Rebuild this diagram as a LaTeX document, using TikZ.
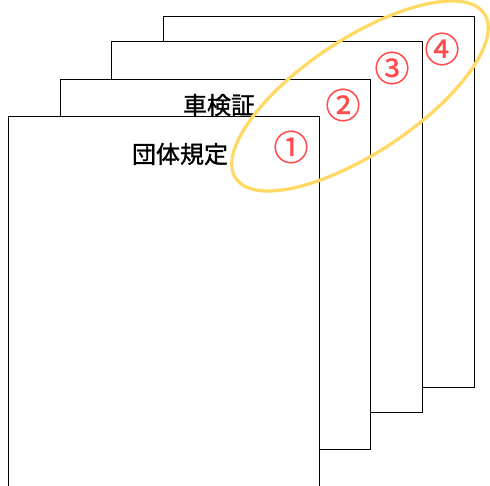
\documentclass[tikz,border=0pt]{standalone}
\usepackage{fontspec}
\newfontfamily\jpfont[FakeBold=1.2]{Noto Sans CJK JP}
\newfontfamily\jpnumfont[FakeBold=0.8]{Noto Sans CJK JP}
\definecolor{ringyellow}{RGB}{255,217,102}
\definecolor{numred}{RGB}{255,75,75}
\tikzset{page/.style={draw=black, line width=1pt, fill=white, minimum width=310.5pt, minimum height=370pt, inner sep=0pt},
         title/.style={font=\jpfont\fontsize{24}{24}\selectfont},
         num/.style={text=numred, font=\jpnumfont\fontsize{35}{35}\selectfont, inner sep=0pt}}

\begin{document}
\begin{tikzpicture}[x=1pt,y=-1pt]
            \useasboundingbox (0,0) rectangle (490,486);
            \node[page] (p4) at (318.8,202) {};
            \node[page] (p3) at (267,227) {};
            \node[page] (p2) at (215.7,264.3) {};
            \node[page] (p1) at (163.9,301.3) {};
            \node[title] (kensho) at (219,105) {車検証};
            \node[title] (kitei) at (180,154) {団体規定};
            \draw [ringyellow, line width=3.3pt, rotate around={33.5:(360,96)}] (360,96) ellipse [x radius=149pt, y radius=57pt];
            \node[num] (n1) at (291,147) {①};
            \node[num] (n2) at (343,105) {②};
            \node[num] (n3) at (392,68) {③};
            \node[num] (n4) at (442,49) {④};
        \end{tikzpicture}
\end{document}
